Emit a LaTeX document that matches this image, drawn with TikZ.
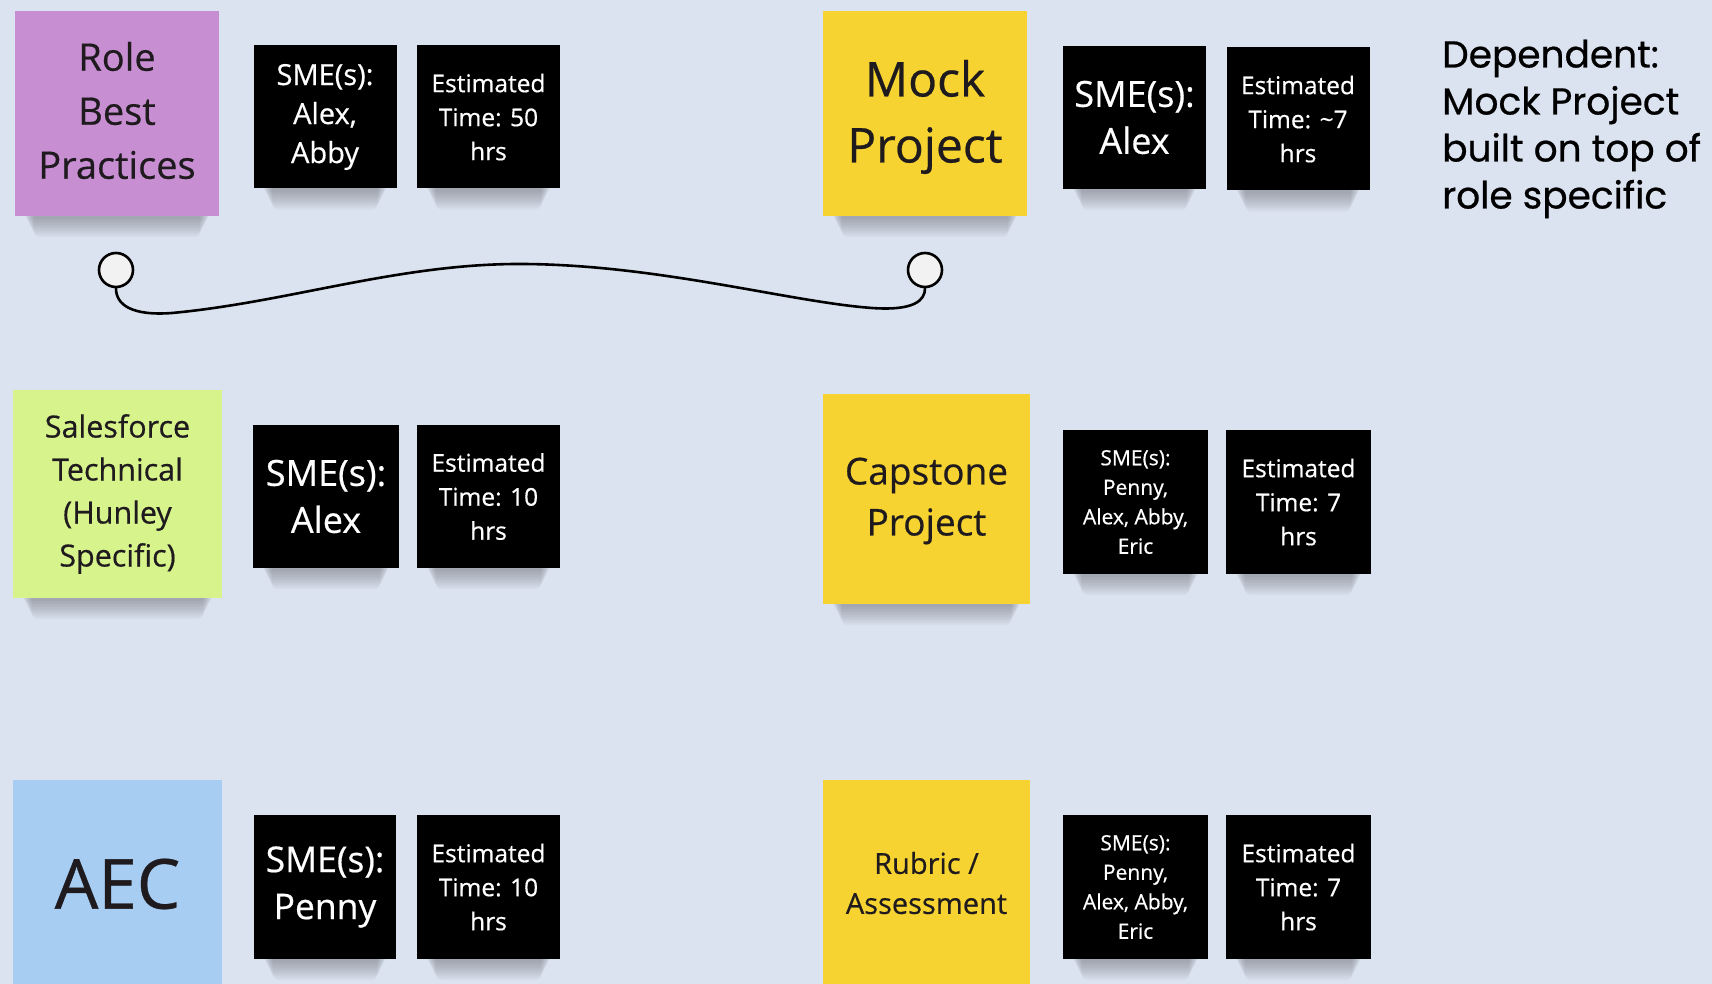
\documentclass[tikz,border=0pt]{standalone}
\usepackage{fontspec}
\setmainfont{Open Sans}[FakeBold=0.5]
\newfontfamily\popfont{Poppins}[FakeBold=0.6]
\usetikzlibrary{calc}
\pgfdeclarelayer{back}
\pgfdeclarelayer{shade}
\pgfsetlayers{back,shade,main}
\definecolor{bgcol}{HTML}{DCE3F0}
\definecolor{purplenote}{HTML}{C78ED2}
\definecolor{yellownote}{HTML}{F6D330}
\definecolor{limenote}{HTML}{D7F38C}
\definecolor{bluenote}{HTML}{A7CDF3}
\definecolor{notetext}{HTML}{1E1A1E}
\definecolor{knob}{HTML}{F2F2F2}
\tikzset{
  note/.style={inner sep=0pt, minimum width=206, minimum height=206},
  notetxt/.style={inner sep=0pt, align=center, text=notetext},
  blackbox/.style={fill=black, text=white, inner sep=0pt, align=center, minimum width=143, minimum height=143},
  knobnode/.style={circle, draw=black, line width=2.6, fill=knob, minimum size=34, inner sep=0pt},
  link/.style={draw=black, line width=2.6, line cap=round},
  fs/.style 2 args={font={\fontsize{#1}{#2}\selectfont}},
  est/.style={blackbox, fs={24.5}{34}},
  smesmall/.style={blackbox, minimum width=145, minimum height=144, fs={21}{29.5}},
}
\newcommand{\shadowunder}[1]{%
  \begin{pgfonlayer}{shade}
  \foreach \i in {0,...,9}{
    \fill[black, opacity=0.028, rounded corners=6]
      ($(#1.south west)+(10+\i,-10)$) rectangle ($(#1.south east)+(-10-\i,3+2*\i)$);
  }
  \end{pgfonlayer}}
\begin{document}
\begin{tikzpicture}[x=1pt, y=-1pt]
\begin{pgfonlayer}{back}
\fill[bgcol] (0,0) rectangle (1712,984);
\end{pgfonlayer}
\useasboundingbox (0,0) rectangle (1712,984);

% Row 1
\node[note, fill=purplenote, minimum width=204, minimum height=205] (rbp) at (117,113.5) {};
\node[notetxt, fs={38}{54}] (rbpt) at ($(rbp.center)+(0,-3)$) {Role\\Best\\Practices};
\node[blackbox, fs={29}{39}] (sme1) at (325,117) {SME(s):\\Alex,\\Abby};
\node[est] (est1) at (488.5,117) {Estimated\\Time: 50\\hrs};
\node[note, fill=yellownote, minimum width=204, minimum height=205] (mock) at (925,113.5) {};
\node[notetxt, fs={48}{66}] (mockt) at ($(mock.center)+(0,3.5)$) {Mock\\Project};
\node[blackbox, fs={36}{47}] (sme2) at (1134.5,117.5) {SME(s):\\Alex};
\node[est] (est2) at (1298,119) {Estimated\\Time: \textasciitilde 7\\hrs};
\node[anchor=west, align=left, inner sep=0pt, text=black, font={\popfont\fontsize{37.5}{47}\selectfont}] (dep) at (1442,129)
  {Dependent:\\Mock Project\\built on top of\\role specific};

% Row 2
\node[note, fill=limenote, minimum width=209, minimum height=208] (sf) at (117.5,494) {};
\node[notetxt, fs={30.5}{43}] (sft) at (sf.center) {Salesforce\\Technical\\(Hunley\\Specific)};
\node[blackbox, minimum width=146, fs={36}{47}] (sme3) at (326,496.5) {SME(s):\\Alex};
\node[est] (est3) at (488.5,496.5) {Estimated\\Time: 10\\hrs};
\node[note, fill=yellownote, minimum width=207, minimum height=210] (cap) at (926.5,499) {};
\node[notetxt, fs={37}{51}] (capt) at ($(cap.center)+(0,2)$) {Capstone\\Project};
\node[smesmall] (sme4) at (1135.5,502) {SME(s):\\Penny,\\Alex, Abby,\\Eric};
\node[est, minimum width=145, minimum height=144] (est4) at (1298.5,502) {Estimated\\Time: 7\\hrs};

% Row 3
\node[note, fill=bluenote, minimum width=209, minimum height=208] (aec) at (117.5,884) {};
\node[notetxt, fs={69}{80}] (aect) at (aec.center) {AEC};
\node[blackbox, minimum width=142, minimum height=144, fs={35.5}{47}] (sme5) at (325,887) {SME(s):\\Penny};
\node[est, minimum height=144] (est5) at (488.5,887) {Estimated\\Time: 10\\hrs};
\node[note, fill=yellownote, minimum width=207, minimum height=208] (rub) at (926.5,884) {};
\node[notetxt, fs={29}{40}] (rubt) at ($(rub.center)+(0,-1)$) {Rubric /\\Assessment};
\node[smesmall] (sme6) at (1135.5,887) {SME(s):\\Penny,\\Alex, Abby,\\Eric};
\node[est, minimum width=145, minimum height=144] (est6) at (1298.5,887) {Estimated\\Time: 7\\hrs};

% shadows
\foreach \n in {rbp,sme1,est1,mock,sme2,est2,sf,sme3,est3,cap,sme4,est4,sme5,est5,sme6,est6}{
  \shadowunder{\n}
}

% connector
\node[knobnode] (k1) at (116,270) {};
\node[knobnode] (k2) at (925,270) {};
\path[link] (k1.south) .. controls (116,305) and (132,316) .. (172,313)
  .. controls (290,302) and (400,263) .. (524,264)
  .. controls (660,265) and (790,302) .. (872,308)
  .. controls (915,311) and (925,300) .. (k2.south);
\end{tikzpicture}
\end{document}
